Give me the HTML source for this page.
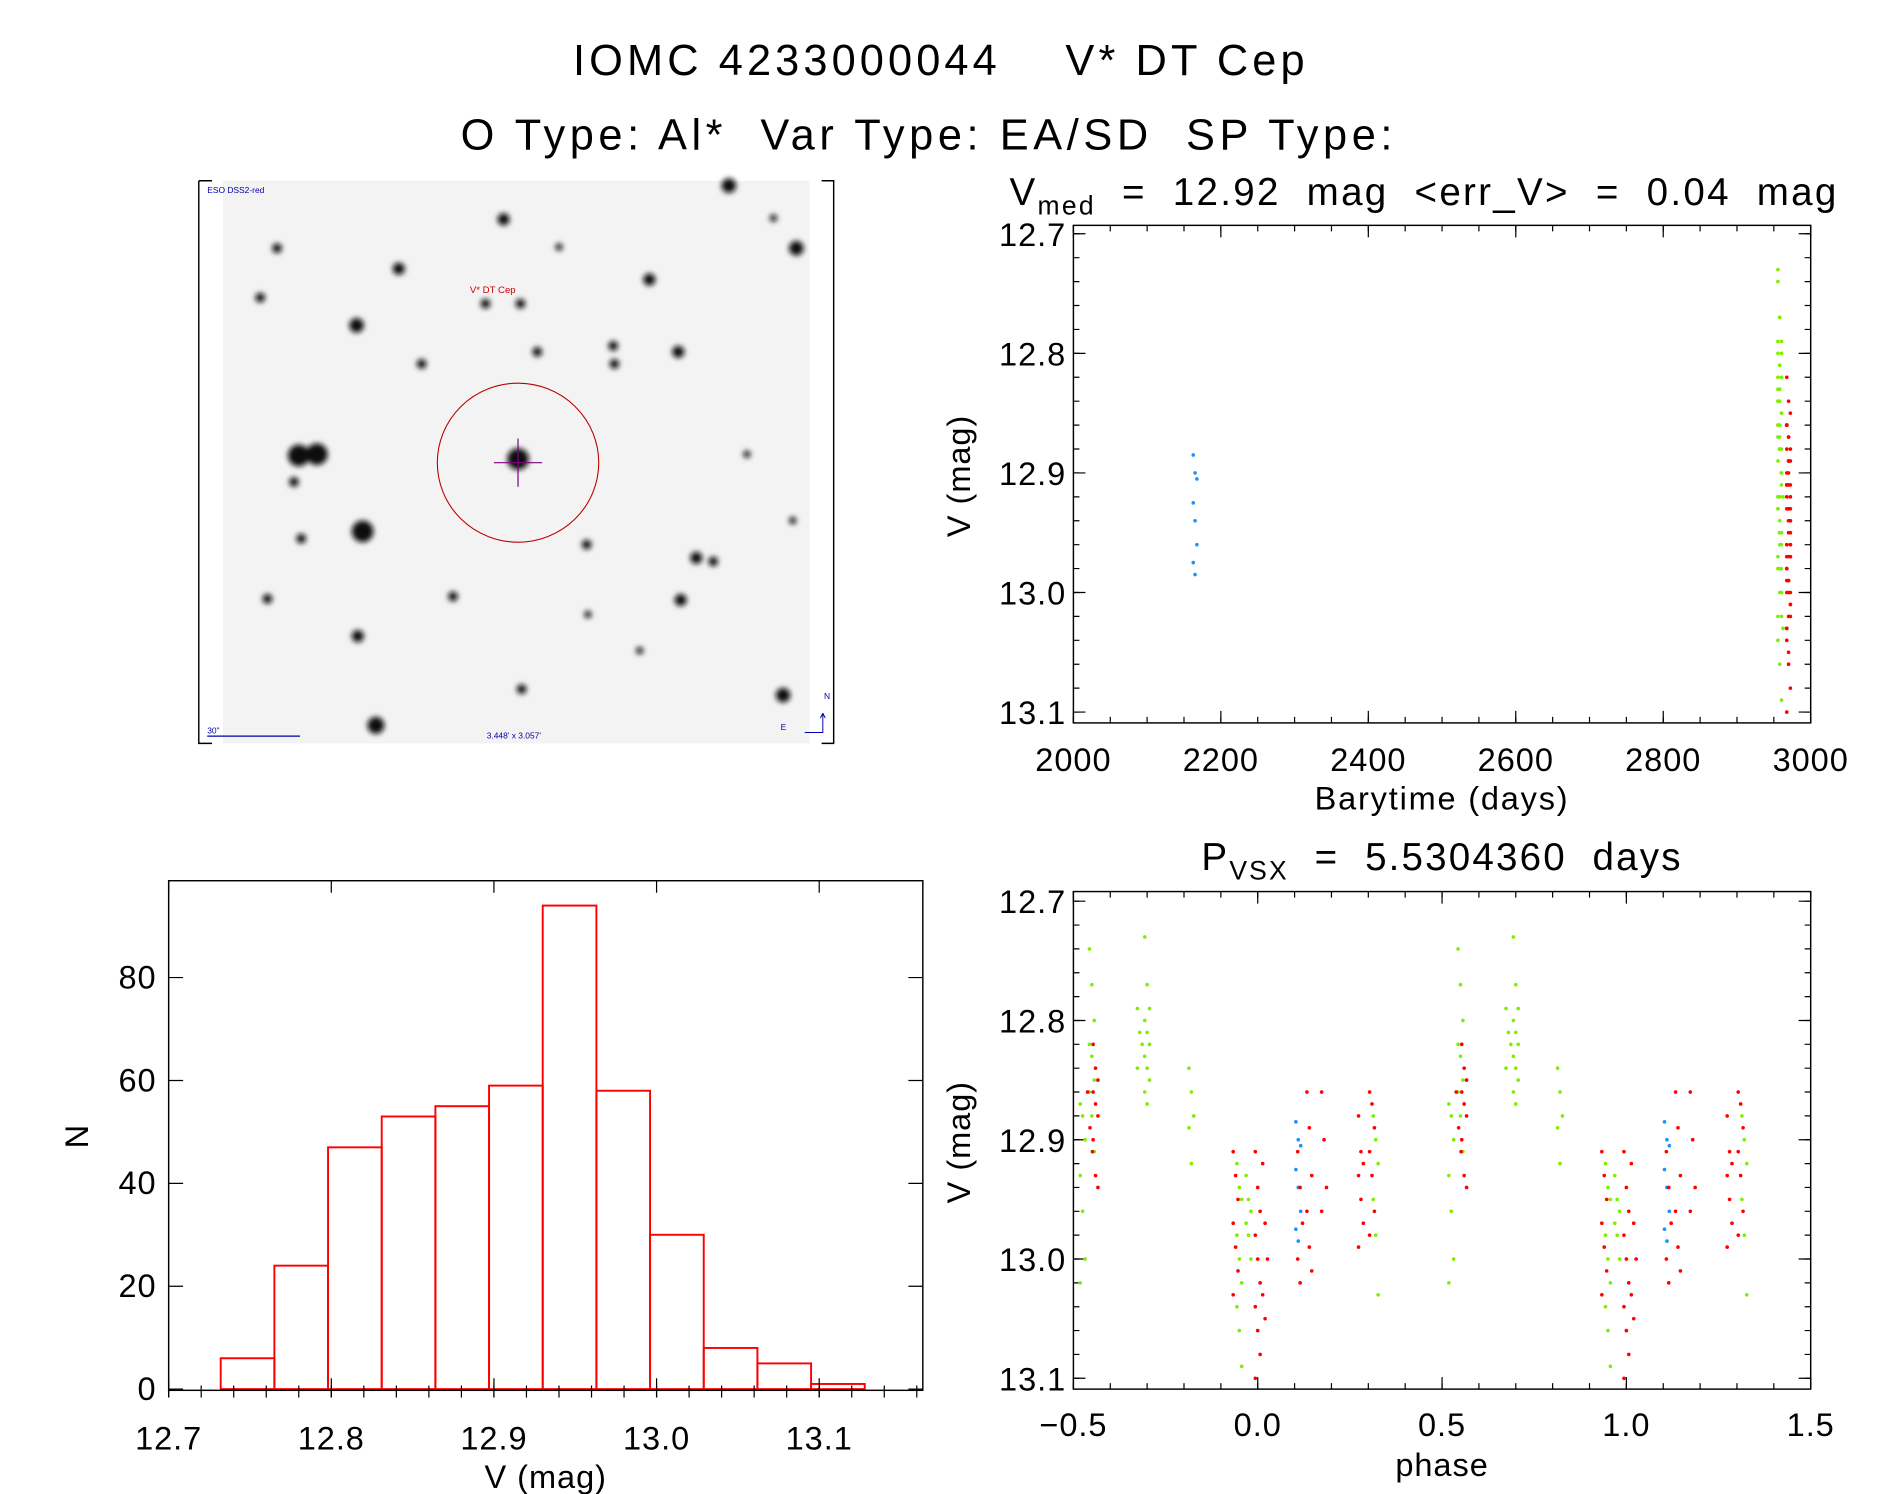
<!DOCTYPE html>
<html><head><meta charset="utf-8"><style>
html,body{margin:0;padding:0;background:#fff}
svg{display:block}
text{font-family:"Liberation Sans","DejaVu Sans",sans-serif;fill:#000;letter-spacing:0.8px}
</style></head><body>
<svg id="fig" width="1889" height="1494" viewBox="0 0 1568 1240" xmlns="http://www.w3.org/2000/svg">
<defs><filter id="blur" x="-1" y="-1" width="3" height="3"><feGaussianBlur stdDeviation="2.2"/></filter></defs>
<text x="781" y="62" font-size="36" text-anchor="middle" style="letter-spacing:3.4px" xml:space="preserve">IOMC 4233000044    V* DT Cep</text>
<text x="771" y="124" font-size="36" text-anchor="middle" style="letter-spacing:3.8px" xml:space="preserve">O Type: Al*  Var Type: EA/SD  SP Type:</text>
<g id="sky">
<rect x="185" y="150" width="487" height="467" fill="#f3f3f3"/>
<path d="M165 150H176M165 150V617H176M682 150H692V617H682" fill="none" stroke="#000" stroke-width="1.2"/>
<g id="stars" filter="url(#blur)"></g>
<ellipse cx="430" cy="384" rx="67" ry="66" fill="none" stroke="#b00" stroke-width="0.9"/>
<path d="M410 384H450M430 364V404" stroke="#800080" stroke-width="1"/>
<text x="390" y="243" font-size="8" style="fill:#c00;letter-spacing:0">V* DT Cep</text>
<text x="172" y="160" font-size="7" style="fill:#00a;letter-spacing:0">ESO DSS2-red</text>
<text x="172" y="609" font-size="7" style="fill:#00a;letter-spacing:0">30"</text>
<path d="M172 611H249" stroke="#00a"/>
<text x="404" y="613" font-size="7" style="fill:#00a;letter-spacing:0">3.448' x 3.057'</text>
<path d="M683 592V608H668M683 592l-2 4M683 592l2 4" stroke="#00a" fill="none" stroke-width="0.8"/>
<text x="684" y="580" font-size="7" style="fill:#00a;letter-spacing:0">N</text>
<text x="648" y="606" font-size="7" style="fill:#00a;letter-spacing:0">E</text>
</g>
<g id="ts"></g>
<g id="ph"></g>
<g id="hist"></g>
</svg>
<script>
const NS='http://www.w3.org/2000/svg';
function mk(p,tag,at,txt){const e=document.createElementNS(NS,tag);for(const k in at)e.setAttribute(k,at[k]);if(txt!==undefined)e.textContent=txt;p.appendChild(e);return e;}

// star field (illustrative image content)
const starX=[430,263,248,301,418,296,605,661,312,650,563,510,539,331,403,432,446,487,578,592,565,376,297,222,250,244,230,216,350,433,488,531,620,642,464,509,658];
const starY=[381,377,378,441,182,270,154,206,602,577,292,302,232,223,252,252,292,452,463,466,498,495,528,497,447,400,206,247,302,572,510,540,377,181,205,287,432];
const starR=[9,9,9,9,5,6,6,6,7,6,5,4,5,5,4,4,4,4,5,4,5,4,5,4,4,4,4,4,4,4,3,3,3,3,3,4,3];
const stars=document.getElementById('stars');
for(let i=0;i<starX.length;i++){const c=mk(stars,'circle',{cx:starX[i],cy:starY[i],r:starR[i],fill:'#111'});

}

// ---- light-curve data: clusters of observations ----
const clusterTime=[2165,2958,2958,2958,2958,2958,2958,2958,2960,2970,2970,2970,2970,2970,2970,2970,2970,2970,2970];
const clusterPhase=[0.11,-0.475,-0.45,-0.30,-0.32,-0.18,-0.05,-0.025,0.32,-0.44,-0.455,-0.06,0.0,0.02,0.115,0.14,0.18,0.28,0.31];
const clusterColor=['#1e90ff','#7fee00','#7fee00','#7fee00','#7fee00','#7fee00','#7fee00','#7fee00','#7fee00','#ff0000','#ff0000','#ff0000','#ff0000','#ff0000','#ff0000','#ff0000','#ff0000','#ff0000','#ff0000'];
const clusterMags=[
[12.885,12.90,12.905,12.925,12.94,12.96,12.975,12.985],
[12.87,12.88,12.90,12.93,12.96,13.00,13.02],
[12.74,12.77,12.80,12.82,12.83,12.85,12.86,12.88,12.91],
[12.73,12.77,12.79,12.80,12.81,12.82,12.83,12.84,12.85,12.86,12.87],
[12.79,12.81,12.82,12.84],
[12.84,12.86,12.88,12.89,12.92],
[12.92,12.94,12.95,12.98,13.00,13.02,13.04,13.06,13.09],
[12.93,12.95,12.96,12.97,12.98,13.00],
[12.88,12.90,12.92,12.95,12.98,13.03],
[12.82,12.84,12.85,12.86,12.87,12.88,12.90,12.93,12.94],
[12.86,12.89,12.91],
[12.91,12.93,12.95,12.97,12.99,13.01,13.03],
[12.91,12.94,12.96,12.98,13.00,13.02,13.04,13.06,13.08,13.10],
[12.92,12.97,13.00,13.03,13.05],
[12.91,12.94,12.97,13.00,13.02],
[12.86,12.89,12.93,12.96,12.99,13.01],
[12.86,12.90,12.94,12.96],
[12.88,12.91,12.92,12.93,12.95,12.97,12.99],
[12.86,12.87,12.89,12.91,12.93,12.96,12.98]];
const tsXTicks=[2000,2200,2400,2600,2800,3000];
const magTicks=[12.7,12.8,12.9,13.0,13.1];
const phXTicks=[-0.5,0.0,0.5,1.0,1.5];
const phXLabels=['\u22120.5','0.0','0.5','1.0','1.5'];

function axesBox(g,x0,x1,y0,y1,name){const r=mk(g,'rect',{x:x0,y:y0,width:x1-x0,height:y1-y0,fill:'none',stroke:'#000','stroke-width':1.2});

}
function magAxis(g,yS,x0,x1){
 for(const m of magTicks){const y=yS(m);mk(g,'path',{d:`M${x0} ${y}h10M${x1} ${y}h-10`,stroke:'#000'});
  const t=mk(g,'text',{x:x0-6,y:y+10,'font-size':27,'text-anchor':'end'},m.toFixed(1));
  
  }
 for(let m=12.7;m<=13.1001;m+=0.02){const y=yS(m);mk(g,'path',{d:`M${x0} ${y}h5M${x1} ${y}h-5`,stroke:'#000'});}
}
// time series
(function(){const g=document.getElementById('ts');
 const X0=891,X1=1503,Y0=187,Y1=600;
 const xS=t=>X0+(t-2000)/1000*(X1-X0);
 const yS=m=>194+(m-12.7)/0.4*(591-194);
 axesBox(g,X0,X1,Y0,Y1,'timeseries-axes');
 magAxis(g,yS,X0,X1);
 for(const t of tsXTicks){const x=xS(t);mk(g,'path',{d:`M${x} ${Y1}v-10M${x} ${Y0}v10`,stroke:'#000'});
  const l=mk(g,'text',{x:x,y:640,'font-size':27,'text-anchor':'middle'},String(t));
  
  }
 for(let t=2000;t<=3000;t+=50){const x=xS(t);mk(g,'path',{d:`M${x} ${Y1}v-5M${x} ${Y0}v5`,stroke:'#000'});}
 const tt=mk(g,'text',{x:838,y:170,'font-size':32,style:'letter-spacing:1.9px'},'');tt.innerHTML='V<tspan font-size="22" dy="8">med</tspan><tspan dy="-8" xml:space="preserve">  =  12.92  mag  &lt;err_V&gt;  =  0.04  mag</tspan>';
 
 
 const xl=mk(g,'text',{x:1197,y:672,'font-size':27,'text-anchor':'middle',style:'letter-spacing:1.5px'},'Barytime (days)');
 
 
 const yl=mk(g,'text',{x:0,y:0,'font-size':27,'text-anchor':'middle',transform:'translate(805,395) rotate(-90)'},'V (mag)');
 
 
 for(let c=0;c<clusterTime.length;c++){clusterMags[c].forEach((m,i)=>{
  const p=mk(g,'circle',{cx:xS(clusterTime[c])+((i%3)-1)*1.5,cy:yS(m),r:1.5,fill:clusterColor[c]});
  
  });}
})();
// phase plot
(function(){const g=document.getElementById('ph');
 const X0=891,X1=1503,Y0=740,Y1=1153;
 const xS=p=>X0+(p+0.5)/2*(X1-X0);
 const yS=m=>748+(m-12.7)/0.4*(1144-748);
 axesBox(g,X0,X1,Y0,Y1,'phase-axes');
 magAxis(g,yS,X0,X1);
 phXTicks.forEach((p,i)=>{const x=xS(p);mk(g,'path',{d:`M${x} ${Y1}v-10M${x} ${Y0}v10`,stroke:'#000'});
  const l=mk(g,'text',{x:x,y:1192,'font-size':27,'text-anchor':'middle'},phXLabels[i]);
  
  });
 for(let p=-0.5;p<=1.5001;p+=0.1){const x=xS(p);mk(g,'path',{d:`M${x} ${Y1}v-5M${x} ${Y0}v5`,stroke:'#000'});}
 const tt=mk(g,'text',{x:1197,y:722,'font-size':32,'text-anchor':'middle',style:'letter-spacing:1.8px'},'');tt.innerHTML='P<tspan font-size="22" dy="8">VSX</tspan><tspan dy="-8" xml:space="preserve">  =  5.5304360  days</tspan>';
 
 
 const xl=mk(g,'text',{x:1197,y:1225,'font-size':27,'text-anchor':'middle'},'phase');
 
 
 const yl=mk(g,'text',{x:0,y:0,'font-size':27,'text-anchor':'middle',transform:'translate(805,948) rotate(-90)'},'V (mag)');
 
 
 for(let c=0;c<clusterPhase.length;c++){clusterMags[c].forEach((m,i)=>{
  for(const off of [0,1]){const ph=clusterPhase[c]+off;if(ph<-0.5||ph>1.5)continue;
   const p=mk(g,'circle',{cx:xS(ph)+((i%3)-1)*2,cy:yS(m),r:1.5,fill:clusterColor[c]});
   
   }});}
})();
// histogram
const binStart=[12.732,12.765,12.798,12.831,12.864,12.897,12.930,12.963,12.996,13.029,13.062,13.095];
const binCounts=[6,24,47,53,55,59,94,58,30,8,5,1];
const histXTicks=[12.7,12.8,12.9,13.0,13.1];
const histYTicks=[0,20,40,60,80];
(function(){const g=document.getElementById('hist');
 const X0=140,X1=766,Y0=731,Y1=1154;
 const xS=v=>140+(v-12.7)/0.4*(680-140);
 const yS=n=>1153-n*4.27;
 const bw=0.033;
 binStart.forEach((b,i)=>{const x=xS(b),w=xS(b+bw)-x,y=yS(binCounts[i]);
  const r=mk(g,'rect',{x:x,y:y,width:w,height:yS(0)-y,fill:'none',stroke:'#f00','stroke-width':1.6});
  
  });
 axesBox(g,X0,X1,Y0,Y1,'histogram-axes');
 for(const v of histXTicks){const x=xS(v);mk(g,'path',{d:`M${x} ${Y1+6}v-16M${x} ${Y0}v10`,stroke:'#000'});
  const l=mk(g,'text',{x:x,y:1203,'font-size':27,'text-anchor':'middle'},v.toFixed(1));
  
  }
 for(let v=12.7;v<=13.165;v+=0.02){const x=xS(v);mk(g,'path',{d:`M${x} ${Y1+6}v-10`,stroke:'#000'});}
 for(const n of histYTicks){const y=yS(n);mk(g,'path',{d:`M${X0} ${y}h12M${X1} ${y}h-12`,stroke:'#000'});
  const l=mk(g,'text',{x:130,y:y+9,'font-size':27,'text-anchor':'end'},String(n));
  
  }
 const xl=mk(g,'text',{x:453,y:1235,'font-size':27,'text-anchor':'middle'},'V (mag)');
 
 
 const yl=mk(g,'text',{x:0,y:0,'font-size':27,'text-anchor':'middle',transform:'translate(73,943) rotate(-90)'},'N');
 
 
})();
</script>
</body></html>
